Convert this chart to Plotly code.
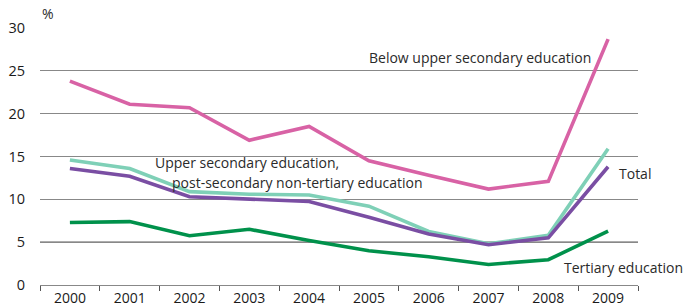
import plotly.graph_objects as go

years = ["2000", "2001", "2002", "2003", "2004", "2005", "2006", "2007", "2008", "2009"]
below_upper_secondary = [23.8, 21.1, 20.7, 16.9, 18.5, 14.5, 12.8, 11.2, 12.1, 28.7]
upper_secondary = [14.6, 13.6, 10.9, 10.6, 10.5, 9.2, 6.25, 4.8, 5.8, 15.9]
total = [13.6, 12.7, 10.3, 10.0, 9.75, 7.9, 5.95, 4.7, 5.5, 13.8]
tertiary = [7.3, 7.4, 5.75, 6.5, 5.2, 4.0, 3.3, 2.4, 2.95, 6.3]

series = [
    ("Below upper secondary education", below_upper_secondary, "#d862a5"),
    ("Upper secondary education", upper_secondary, "#7fd0b7"),
    ("Total", total, "#7a4ea3"),
    ("Tertiary education", tertiary, "#00914b"),
]

font_family = "Open Sans, Lato, sans-serif"

fig = go.Figure()
for name, vals, col in series:
    fig.add_trace(go.Scatter(x=years, y=vals, mode="lines", name=name,
                             line=dict(color=col, width=3.6), showlegend=False))

fig.add_shape(type="line", xref="paper", yref="y", x0=0, x1=1, y0=5, y1=5,
              line=dict(color="#111111", width=1), layer="below")

W, H = 687, 308
L, R, T, B = 40, 49, 28, 23
pw, ph = W - L - R, H - T - B

ann = dict(font=dict(family=font_family, size=14, color="#2a2a2a"), showarrow=False)
annotations = [
    dict(text="%", x=40, y=14, xanchor="left"),
    dict(text="Below upper secondary education", x=593, y=57, xanchor="right"),
    dict(text="Upper secondary education,", x=153, y=162, xanchor="left"),
    dict(text="post-secondary non-tertiary education", x=425, y=182, xanchor="right"),
    dict(text="Total", x=617, y=173, xanchor="left"),
    dict(text="Tertiary education", x=685, y=267, xanchor="right"),
]
for a in annotations:
    fig.add_annotation(text=a["text"], xref="paper", yref="paper",
                       x=(a["x"] - L) / pw, y=1 - (a["y"] - T) / ph,
                       xanchor=a["xanchor"], yanchor="middle", **ann)

fig.update_layout(
    width=W, height=H,
    margin=dict(l=L, r=R, t=T, b=B, autoexpand=False),
    plot_bgcolor="white", paper_bgcolor="white",
    font=dict(family=font_family, size=14, color="#1a1a1a"),
)
fig.update_xaxes(type="category", tickson="boundaries", ticks="outside", ticklen=5,
                 tickcolor="#555555", showline=True, linecolor="#888888", linewidth=1,
                 showgrid=False, tickfont=dict(size=14), range=[-0.5, 9.5],
                 automargin=False)
fig.update_yaxes(range=[0, 30], tickvals=[0, 5, 10, 15, 20, 25, 30], showgrid=True,
                 gridcolor="#888888", gridwidth=1, zeroline=False, showline=False,
                 ticks="", tickfont=dict(size=14.5), ticklabelstandoff=14,
                 automargin=False)

fig.write_html("out.html", config={"displayModeBar": False},
               post_script="document.body.style.margin='0px';")
